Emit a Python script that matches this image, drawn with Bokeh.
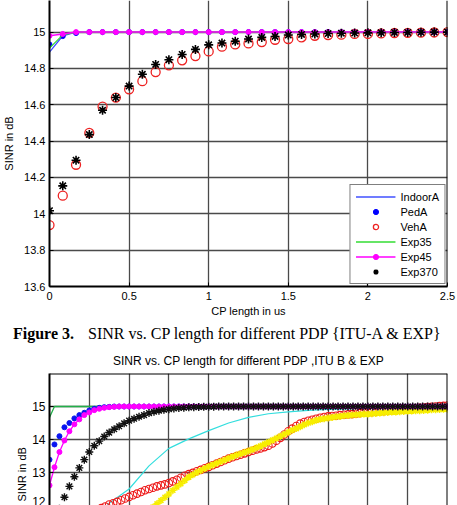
from bokeh.plotting import figure
from bokeh.models import Range1d, FixedTicker, Span, Legend, LegendItem, Div, Title
from bokeh.layouts import column
from bokeh.embed import file_html
from bokeh.resources import INLINE

SANS = "Liberation Sans"
SERIF = "Liberation Serif"

# ---------------- Figure 3 : ITU-A & EXP ----------------
cp_a = [0.0, 0.0833, 0.1667, 0.25, 0.3333, 0.4167, 0.5, 0.5833, 0.6667, 0.75,
        0.8333, 0.9167, 1.0, 1.0833, 1.1667, 1.25, 1.3333, 1.4167, 1.5, 1.5833,
        1.6667, 1.75, 1.8333, 1.9167, 2.0, 2.0833, 2.1667, 2.25, 2.3333, 2.4167,
        2.5]
indoorA = [14.89, 14.98, 15.0, 15.0, 15.0, 15.0, 15.0, 15.0, 15.0, 15.0,
           15.0, 15.0, 15.0, 15.0, 15.0, 15.0, 15.0, 15.0, 15.0, 15.0,
           15.0, 15.0, 15.0, 15.0, 15.0, 15.0, 15.0, 15.0, 15.0, 15.0,
           15.0]
pedA = [14.932, 14.978, 14.995, 15.0, 15.0, 15.0, 15.0, 15.0, 15.0, 15.0,
        15.0, 15.0, 15.0, 15.0, 15.0, 15.0, 15.0, 15.0, 15.0, 15.0,
        15.0, 15.0, 15.0, 15.0, 15.0, 15.0, 15.0, 15.0, 15.0, 15.0,
        15.0]
vehA = [13.938, 14.10, 14.27, 14.445, 14.59, 14.64, 14.685, 14.73, 14.78, 14.817,
        14.845, 14.868, 14.894, 14.92, 14.932, 14.938, 14.945, 14.958, 14.962, 14.971,
        14.98, 14.984, 14.986, 14.99, 14.99, 14.993, 14.995, 14.996, 14.997, 14.998,
        15.0]
exp35 = [14.912, 14.985, 15.0, 15.0, 15.0, 15.0, 15.0, 15.0, 15.0, 15.0,
         15.0, 15.0, 15.0, 15.0, 15.0, 15.0, 15.0, 15.0, 15.0, 15.0,
         15.0, 15.0, 15.0, 15.0, 15.0, 15.0, 15.0, 15.0, 15.0, 15.0,
         15.0]
exp45 = [14.98, 14.99, 15.0, 15.0, 15.0, 15.0, 15.0, 15.0, 15.0, 15.0,
         15.0, 15.0, 15.0, 15.0, 15.0, 15.0, 15.0, 15.0, 15.0, 15.0,
         15.0, 15.0, 15.0, 15.0, 15.0, 15.0, 15.0, 15.0, 15.0, 15.0,
         15.0]
exp370 = [14.017, 14.154, 14.295, 14.436, 14.57, 14.64, 14.703, 14.768, 14.822, 14.848,
          14.877, 14.905, 14.93, 14.94, 14.95, 14.962, 14.971, 14.976, 14.984, 14.987,
          14.99, 14.992, 14.994, 14.995, 14.996, 14.997, 14.998, 14.998, 14.999, 15.0,
          15.0]
x_ticks_a = [0, 0.5, 1, 1.5, 2, 2.5]
x_labels_a = ["0", "0.5", "1", "1.5", "2", "2.5"]
y_ticks_a = [13.6, 13.8, 14.0, 14.2, 14.4, 14.6, 14.8, 15.0]
y_labels_a = ["13.6", "13.8", "14", "14.2", "14.4", "14.6", "14.8", "15"]

# ---------------- Second chart : ITU B & EXP ----------------
cp_b = [0.0, 0.25, 0.5, 0.75, 1.0, 1.25, 1.5, 1.75, 2.0, 2.25,
        2.5, 2.75, 3.0, 3.25, 3.5, 3.75, 4.0, 4.25, 4.5, 4.75,
        5.0, 5.25, 5.5, 5.75, 6.0, 6.25, 6.5, 6.75, 7.0, 7.25,
        7.5, 7.75, 8.0, 8.25, 8.5, 8.75, 9.0, 9.25, 9.5, 9.75,
        10.0, 10.25, 10.5, 10.75, 11.0, 11.25, 11.5, 11.75, 12.0, 12.25,
        12.5, 12.75, 13.0, 13.25, 13.5, 13.75, 14.0, 14.25, 14.5, 14.75,
        15.0, 15.25, 15.5, 15.75, 16.0, 16.25, 16.5, 16.75, 17.0, 17.25,
        17.5, 17.75, 18.0, 18.25, 18.5, 18.75, 19.0, 19.25, 19.5, 19.75,
        20.0]
green_b = [14.67, 15.0, 15.0, 15.0, 15.0, 15.0, 15.0, 15.0, 15.0, 15.0,
           15.0, 15.0, 15.0, 15.0, 15.0, 15.0, 15.0, 15.0, 15.0, 15.0,
           15.0, 15.0, 15.0, 15.0, 15.0, 15.0, 15.0, 15.0, 15.0, 15.0,
           15.0, 15.0, 15.0, 15.0, 15.0, 15.0, 15.0, 15.0, 15.0, 15.0,
           15.0, 15.0, 15.0, 15.0, 15.0, 15.0, 15.0, 15.0, 15.0, 15.0,
           15.0, 15.0, 15.0, 15.0, 15.0, 15.0, 15.0, 15.0, 15.0, 15.0,
           15.0, 15.0, 15.0, 15.0, 15.0, 15.0, 15.0, 15.0, 15.0, 15.0,
           15.0, 15.0, 15.0, 15.0, 15.0, 15.0, 15.0, 15.0, 15.0, 15.0,
           15.0]
blue_b = [13.39, 13.85, 14.10, 14.37, 14.50, 14.64, 14.74, 14.81, 14.88, 14.93,
          14.96, 14.98, 14.99, 15.0, 15.0, 15.0, 15.0, 15.0, 15.0, 15.0,
          15.0, 15.0, 15.0, 15.0, 15.0, 15.0, 15.0, 15.0, 15.0, 15.0,
          15.0, 15.0, 15.0, 15.0, 15.0, 15.0, 15.0, 15.0, 15.0, 15.0,
          15.0, 15.0, 15.0, 15.0, 15.0, 15.0, 15.0, 15.0, 15.0, 15.0,
          15.0, 15.0, 15.0, 15.0, 15.0, 15.0, 15.0, 15.0, 15.0, 15.0,
          15.0, 15.0, 15.0, 15.0, 15.0, 15.0, 15.0, 15.0, 15.0, 15.0,
          15.0, 15.0, 15.0, 15.0, 15.0, 15.0, 15.0, 15.0, 15.0, 15.0,
          15.0]
magenta_b = [12.61, 13.16, 13.62, 13.97, 14.25, 14.46, 14.61, 14.74, 14.82, 14.89,
             14.93, 14.96, 14.98, 14.99, 15.0, 15.0, 15.0, 15.0, 15.0, 15.0,
             15.0, 15.0, 15.0, 15.0, 15.0, 15.0, 15.0, 15.0, 15.0, 15.0,
             15.0, 15.0, 15.0, 15.0, 15.0, 15.0, 15.0, 15.0, 15.0, 15.0,
             15.0, 15.0, 15.0, 15.0, 15.0, 15.0, 15.0, 15.0, 15.0, 15.0,
             15.0, 15.0, 15.0, 15.0, 15.0, 15.0, 15.0, 15.0, 15.0, 15.0,
             15.0, 15.0, 15.0, 15.0, 15.0, 15.0, 15.0, 15.0, 15.0, 15.0,
             15.0, 15.0, 15.0, 15.0, 15.0, 15.0, 15.0, 15.0, 15.0, 15.0,
             15.0]
black_b = [11.0, 11.5, 11.9, 12.25, 12.58, 12.87, 13.14, 13.39, 13.62, 13.81,
           13.95, 14.09, 14.21, 14.31, 14.40, 14.49, 14.57, 14.63, 14.69, 14.74,
           14.80, 14.84, 14.87, 14.90, 14.92, 14.94, 14.955, 14.965, 14.975, 14.98,
           14.985, 14.99, 14.993, 14.996, 15.0, 15.0, 15.0, 15.0, 15.0, 15.0,
           15.0, 15.0, 15.0, 15.0, 15.0, 15.0, 15.0, 15.0, 15.0, 15.0,
           15.0, 15.0, 15.0, 15.0, 15.0, 15.0, 15.0, 15.0, 15.0, 15.0,
           15.0, 15.0, 15.0, 15.0, 15.0, 15.0, 15.0, 15.0, 15.0, 15.0,
           15.0, 15.0, 15.0, 15.0, 15.0, 15.0, 15.0, 15.0, 15.0, 15.0,
           15.0]
cp_cyan = [0, 1, 2, 3, 4, 5, 6, 7, 8, 9, 10, 11, 12, 13, 14, 15, 16, 17, 18, 19, 20]
cyan_b = [9.0, 10.3, 11.4, 12.07, 12.5, 13.2, 13.73, 14.02, 14.27, 14.5,
          14.67, 14.78, 14.84, 14.88, 14.91, 14.93, 14.95, 14.97, 14.98, 14.99,
          15.0]
cp_c = [0.0, 0.2, 0.4, 0.6, 0.8, 1.0, 1.2, 1.4, 1.6, 1.8,
        2.0, 2.2, 2.4, 2.6, 2.8, 3.0, 3.2, 3.4, 3.6, 3.8,
        4.0, 4.2, 4.4, 4.6, 4.8, 5.0, 5.2, 5.4, 5.6, 5.8,
        6.0, 6.2, 6.4, 6.6, 6.8, 7.0, 7.2, 7.4, 7.6, 7.8,
        8.0, 8.2, 8.4, 8.6, 8.8, 9.0, 9.2, 9.4, 9.6, 9.8,
        10.0, 10.2, 10.4, 10.6, 10.8, 11.0, 11.2, 11.4, 11.6, 11.8,
        12.0, 12.2, 12.4, 12.6, 12.8, 13.0, 13.2, 13.4, 13.6, 13.8,
        14.0, 14.2, 14.4, 14.6, 14.8, 15.0, 15.2, 15.4, 15.6, 15.8,
        16.0, 16.2, 16.4, 16.6, 16.8, 17.0, 17.2, 17.4, 17.6, 17.8,
        18.0, 18.2, 18.4, 18.6, 18.8, 19.0, 19.2, 19.4, 19.6, 19.8,
        20.0]
red_b = [11.40, 11.42, 11.45, 11.48, 11.52, 11.56, 11.60, 11.64, 11.68, 11.72,
         11.77, 11.82, 11.87, 11.92, 11.97, 12.03, 12.07, 12.11, 12.16, 12.21,
         12.26, 12.31, 12.36, 12.41, 12.46, 12.50, 12.54, 12.58, 12.61, 12.64,
         12.68, 12.73, 12.78, 12.84, 12.90, 12.95, 12.99, 13.04, 13.08, 13.13,
         13.17, 13.22, 13.27, 13.32, 13.37, 13.42, 13.46, 13.50, 13.54, 13.58,
         13.62, 13.66, 13.70, 13.73, 13.77, 13.81, 13.88, 13.96, 14.05, 14.15,
         14.25, 14.33, 14.41, 14.48, 14.53, 14.57, 14.60, 14.63, 14.66, 14.68,
         14.70, 14.71, 14.72, 14.74, 14.75, 14.76, 14.77, 14.78, 14.80, 14.81,
         14.82, 14.83, 14.84, 14.85, 14.86, 14.87, 14.88, 14.89, 14.90, 14.91,
         14.93, 14.94, 14.95, 14.96, 14.97, 14.98, 14.99, 15.00, 15.01, 15.02,
         15.03]
yellow_b = [9.70, 9.78, 9.86, 9.94, 10.02, 10.10, 10.18, 10.26, 10.34, 10.42,
            10.50, 10.58, 10.66, 10.74, 10.82, 10.90, 10.99, 11.08, 11.17, 11.26,
            11.35, 11.45, 11.55, 11.65, 11.75, 11.85, 11.95, 12.05, 12.15, 12.25,
            12.35, 12.46, 12.56, 12.66, 12.76, 12.86, 12.93, 13.00, 13.06, 13.12,
            13.18, 13.23, 13.28, 13.33, 13.38, 13.43, 13.48, 13.53, 13.57, 13.61,
            13.65, 13.70, 13.75, 13.80, 13.86, 13.92, 13.98, 14.04, 14.10, 14.16,
            14.22, 14.28, 14.33, 14.39, 14.45, 14.50, 14.54, 14.58, 14.61, 14.63,
            14.65, 14.67, 14.69, 14.70, 14.72, 14.73, 14.74, 14.75, 14.76, 14.77,
            14.77, 14.78, 14.79, 14.80, 14.81, 14.82, 14.83, 14.83, 14.84, 14.85,
            14.86, 14.86, 14.87, 14.87, 14.88, 14.89, 14.90, 14.90, 14.91, 14.92,
            14.92]
x_ticks_b = [0, 2, 4, 6, 8, 10, 12, 14, 16, 18, 20]
y_ticks_b = [12, 13, 14, 15]
y_labels_b = ["12", "13", "14", "15"]

caption_bold = "Figure 3."
caption_text = "SINR vs. CP length for different PDP {ITU-A &amp; EXP}"
title_b = "SINR vs. CP length for different PDP ,ITU B & EXP"
ylabel = "SINR in dB"
xlabel = "CP length in us"

GRID = "#4a4a4a"


def style_axis(ax, size="11px"):
    ax.axis_line_color = "black"
    ax.axis_line_width = 2
    ax.major_tick_in = 4
    ax.major_tick_out = 0
    ax.major_tick_line_color = "black"
    ax.minor_tick_line_color = None
    ax.major_label_text_font = SANS
    ax.major_label_text_font_size = size
    ax.major_label_text_color = "black"
    ax.axis_label_text_font = SANS
    ax.axis_label_text_font_size = "11px"
    ax.axis_label_text_font_style = "normal"
    ax.axis_label_text_color = "black"


# ---------- top chart ----------
p1 = figure(width=457, height=322, x_range=Range1d(0, 2.5), y_range=Range1d(13.6, 15.174),
            output_backend="svg", toolbar_location=None,
            min_border_left=47, min_border_right=10, min_border_top=0, min_border_bottom=36)
p1.outline_line_color = None
p1.xaxis.ticker = FixedTicker(ticks=x_ticks_a)
p1.yaxis.ticker = FixedTicker(ticks=y_ticks_a)
p1.xaxis.major_label_overrides = {t: l for t, l in zip(x_ticks_a, x_labels_a)}
p1.yaxis.major_label_overrides = {t: l for t, l in zip(y_ticks_a, y_labels_a)}
style_axis(p1.xaxis[0])
style_axis(p1.yaxis[0])
p1.xaxis.major_label_standoff = 5
p1.xaxis.axis_label = xlabel
p1.xaxis.axis_label_standoff = 2
p1.yaxis.major_label_standoff = 4
p1.yaxis.axis_label = ylabel
p1.yaxis.axis_label_standoff = 6
for g in (p1.xgrid[0], p1.ygrid[0]):
    g.grid_line_color = GRID
    g.grid_line_width = 1.3
p1.add_layout(Span(location=2.5, dimension="height", line_color="black", line_width=2))

r_indoor = p1.line(cp_a, indoorA, line_color="#4050ff", line_width=1.3)
r_ped = p1.scatter(cp_a, pedA, marker="circle", size=5, fill_color="#0000ff", line_color="#0000ff")
r_veh = p1.scatter(cp_a, vehA, marker="circle", size=9, fill_color=None, line_color="#ee2222", line_width=1.3)
r_e35 = p1.line(cp_a, exp35, line_color="#33dd33", line_width=1.3)
r_e45l = p1.line(cp_a, exp45, line_color="#ff00ff", line_width=1.5)
r_e45m = p1.scatter(cp_a, exp45, marker="circle", size=5, fill_color="#ff00ff", line_color="#ff00ff")
r_e370 = p1.scatter(cp_a, exp370, marker="asterisk", size=9, line_color="black", line_width=1.6)

legend = Legend(items=[
    LegendItem(label="IndoorA", renderers=[r_indoor]),
    LegendItem(label="PedA", renderers=[r_ped]),
    LegendItem(label="VehA", renderers=[r_veh]),
    LegendItem(label="Exp35", renderers=[r_e35]),
    LegendItem(label="Exp45", renderers=[r_e45l, r_e45m]),
    LegendItem(label="Exp370", renderers=[r_e370]),
], location="bottom_right")
legend.label_text_font = SANS
legend.label_text_font_size = "11px"
legend.label_text_color = "black"
legend.glyph_width = 40
legend.glyph_height = 13
legend.label_height = 13
legend.spacing = 2
legend.padding = 5
legend.margin = 2
legend.label_standoff = 5
legend.border_line_color = "black"
legend.border_line_width = 1.5
legend.background_fill_alpha = 1
p1.add_layout(legend)

# ---------- caption ----------
caption = Div(
    text=f'<b>{caption_bold}</b><span style="margin-left:14px">{caption_text}</span>',
    width=457, height=23, margin=(0, 0, 0, 0),
    styles={"font-family": SERIF, "font-size": "16px", "line-height": "23px",
            "padding-left": "13px", "white-space": "nowrap", "color": "black"})

# ---------- bottom chart ----------
p2 = figure(width=457, height=160, x_range=Range1d(0, 20), y_range=Range1d(12, 16),
            output_backend="svg", toolbar_location=None,
            min_border_left=34, min_border_right=8, min_border_top=28, min_border_bottom=0)
p2.outline_line_color = None
p2.title.text = title_b
p2.title.align = "center"
p2.title.text_font = SANS
p2.title.text_font_size = "12px"
p2.title.text_font_style = "normal"
p2.title.text_color = "black"
p2.title.standoff = 12
p2.xaxis.visible = False
p2.xaxis.ticker = FixedTicker(ticks=x_ticks_b)
p2.xgrid.ticker = FixedTicker(ticks=x_ticks_b)
p2.yaxis.ticker = FixedTicker(ticks=y_ticks_b)
p2.yaxis.major_label_overrides = {t: l for t, l in zip(y_ticks_b, y_labels_b)}
style_axis(p2.yaxis[0], size="12px")
p2.yaxis.major_label_standoff = 4
for g in (p2.xgrid[0], p2.ygrid[0]):
    g.grid_line_color = GRID
    g.grid_line_width = 1.3
p2.add_layout(Span(location=20, dimension="height", line_color="black", line_width=2))
p2.add_layout(Span(location=16, dimension="width", line_color="black", line_width=2))
p2.add_layout(Title(text=ylabel, align="left", offset=4, standoff=3, text_font=SANS,
                    text_font_size="11px", text_font_style="normal", text_color="black"), "left")

p2.line(cp_cyan, cyan_b, line_color="#33dede", line_width=1.2)
p2.scatter(cp_c, red_b, marker="circle", size=7.5, fill_color=None, line_color="#ee1a1a", line_width=1.1)
p2.scatter(cp_c, yellow_b, marker="asterisk", size=7, line_color="#f7ee00", line_width=1.6)
p2.line(cp_b, green_b, line_color="#22b04a", line_width=1.3)
p2.scatter(cp_b, blue_b, marker="circle", size=5, fill_color="#0a14f0", line_color="#0a14f0")
p2.line(cp_b, magenta_b, line_color="#ff00ff", line_width=1.3)
p2.scatter(cp_b, magenta_b, marker="circle", size=5, fill_color="#ff00ff", line_color="#ff00ff")
p2.scatter(cp_b, black_b, marker="asterisk", size=8, line_color="#111111", line_width=1.4)

layout = column(p1, caption, p2, spacing=0)
open("out.html", "w").write(file_html(layout, INLINE))
